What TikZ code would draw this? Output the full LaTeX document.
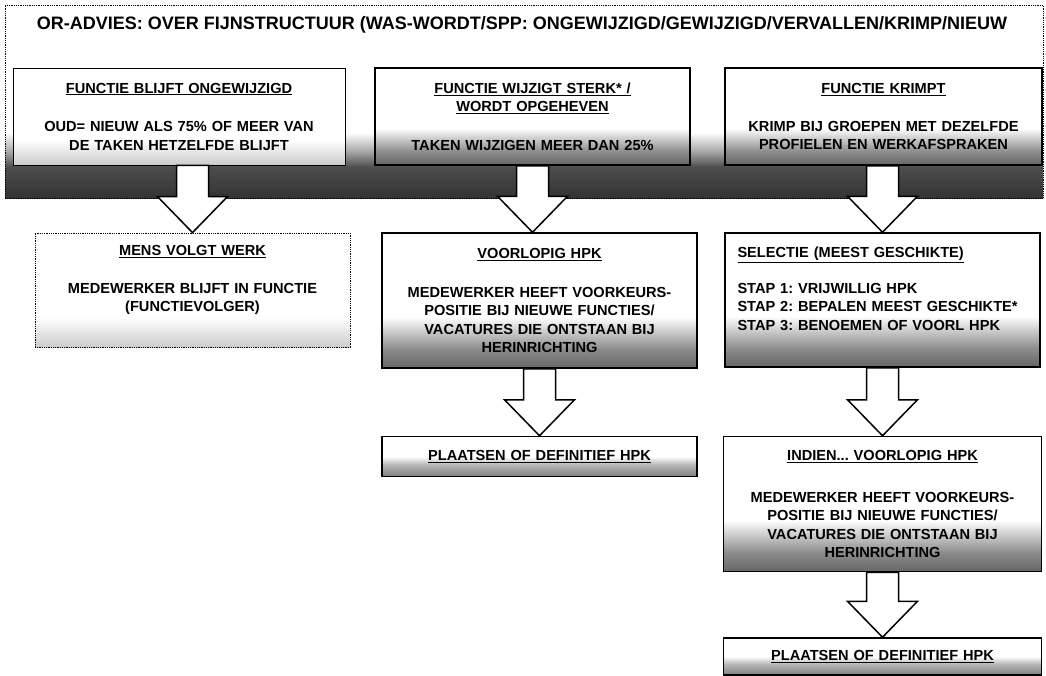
\documentclass[tikz,border=0pt]{standalone}
\usepackage{fontspec}
\setmainfont{Liberation Sans}
\usepackage{xcolor}
\usetikzlibrary{positioning, calc}
\frenchspacing

% Shadings: white top, grey foot (path covers 25bp..75bp)
\pgfdeclareverticalshading{lightfoot}{100bp}{color(0bp)=(black!20); color(25bp)=(black!20); color(38bp)=(white); color(100bp)=(white)}
\pgfdeclareverticalshading{darkfoot}{100bp}{color(0bp)=(black!60); color(25bp)=(black!60); color(32bp)=(black!45); color(44bp)=(white); color(100bp)=(white)}
\pgfdeclareverticalshading{halffoot}{100bp}{color(0bp)=(black!50); color(25bp)=(black!50); color(40bp)=(black!28); color(50bp)=(white); color(100bp)=(white)}
\pgfdeclareverticalshading{bandfoot}{100bp}{color(0bp)=(black!80); color(25bp)=(black!80); color(33bp)=(black!70); color(37bp)=(black!35); color(42bp)=(white); color(100bp)=(white)}

\begin{document}
\begin{tikzpicture}[x=1pt, y=-1pt,
    box/.style={rectangle, draw, line width=1.5pt, shade, align=center, text width=300pt, inner sep=0pt, font=\bfseries\fontsize{14.6}{18.5}\selectfont},
    thinbox/.style={box, line width=0.7pt},
    dotbox/.style={box, line width=0.8pt, densely dotted},
    fatarrow/.style={draw, line width=1.5pt, fill=white, line join=miter,
        to path={let \p1=(\tikztostart), \p2=(\tikztotarget) in
            (\x2-16pt,\y1) -- (\x2-16pt,\y2+36pt) -- (\x2-35pt,\y2+36pt) -- (\x2,\y2)
            -- (\x2+35pt,\y2+36pt) -- (\x2+16pt,\y2+36pt) -- (\x2+16pt,\y1) -- cycle}}]
    \useasboundingbox (0,0) rectangle (1046,675);

    % Frame and title
    \node[dotbox, shading=bandfoot, minimum width=1038pt, minimum height=193pt] (frame) at (524,101.5) {};
    \node[font=\bfseries\fontsize{18}{21}\selectfont] (title) at (522,25) {OR-ADVIES: OVER FIJNSTRUCTUUR (WAS-WORDT/SPP: ONGEWIJZIGD/GEWIJZIGD/VERVALLEN/KRIMP/NIEUW};

    % Top row
    \node[thinbox, shading=lightfoot, minimum width=332pt, minimum height=97pt] (fixed) at (179,116.5) {\underline{FUNCTIE BLIJFT ONGEWIJZIGD}\\[20pt] OUD= NIEUW ALS 75\% OF MEER VAN\\ DE TAKEN HETZELFDE BLIJFT};
    \node[box, shading=darkfoot, minimum width=315pt, minimum height=97pt] (changed) at (532.5,116.5) {\underline{FUNCTIE WIJZIGT STERK* /}\\ \underline{WORDT OPGEHEVEN}\\[20pt] TAKEN WIJZIGEN MEER DAN 25\%};
    \node[box, shading=darkfoot, minimum width=317pt, minimum height=97pt] (shrink) at (883.5,116.5) {\underline{FUNCTIE KRIMPT}\\[19pt] KRIMP BIJ GROEPEN MET DEZELFDE\\ PROFIELEN EN WERKAFSPRAKEN};

    % Second row
    \node[dotbox, shading=lightfoot, minimum width=315pt, minimum height=114pt] (follow) at (192.5,290) {\underline{MENS VOLGT WERK}\\[19pt] MEDEWERKER BLIJFT IN FUNCTIE\\ (FUNCTIEVOLGER)\\[4pt]\mbox{}};
    \node[box, shading=darkfoot, minimum width=315pt, minimum height=135pt] (interim) at (539.5,300.5) {\underline{VOORLOPIG HPK}\\[20pt] MEDEWERKER HEEFT VOORKEURS-\\ POSITIE BIJ NIEUWE FUNCTIES/\\ VACATURES DIE ONTSTAAN BIJ\\ HERINRICHTING};
    \node[box, shading=darkfoot, align=left, text width=290pt, minimum width=315pt, minimum height=134pt] (select) at (882.5,300) {\underline{SELECTIE (MEEST GESCHIKTE)}\\[17pt] STAP 1: VRIJWILLIG HPK\\ STAP 2: BEPALEN MEEST GESCHIKTE*\\ STAP 3: BENOEMEN OF VOORL HPK\\[4pt]\mbox{}};

    % Outcomes
    \node[box, shading=halffoot, minimum width=315pt, minimum height=40pt, below=67pt of interim] (final) {\underline{PLAATSEN OF DEFINITIEF HPK}};
    \node[box, shading=darkfoot, minimum width=318pt, minimum height=135pt, below=68pt of select] (interimb) {\underline{INDIEN... VOORLOPIG HPK}\\[23pt] MEDEWERKER HEEFT VOORKEURS-\\ POSITIE BIJ NIEUWE FUNCTIES/\\ VACATURES DIE ONTSTAAN BIJ\\ HERINRICHTING};
    \node[box, shading=halffoot, minimum width=318pt, minimum height=37pt, below=65pt of interimb] (finalb) {\underline{PLAATSEN OF DEFINITIEF HPK}};

    % Arrows
    \draw[fatarrow] (fixed.south) to (follow.north);
    \draw[fatarrow] (changed.south) to (changed.south |- interim.north);
    \draw[fatarrow] (shrink.south) to (select.north);
    \draw[fatarrow] (interim.south) to (final.north);
    \draw[fatarrow] (select.south) to (interimb.north);
    \draw[fatarrow] (interimb.south) to (finalb.north);
\end{tikzpicture}
\end{document}
